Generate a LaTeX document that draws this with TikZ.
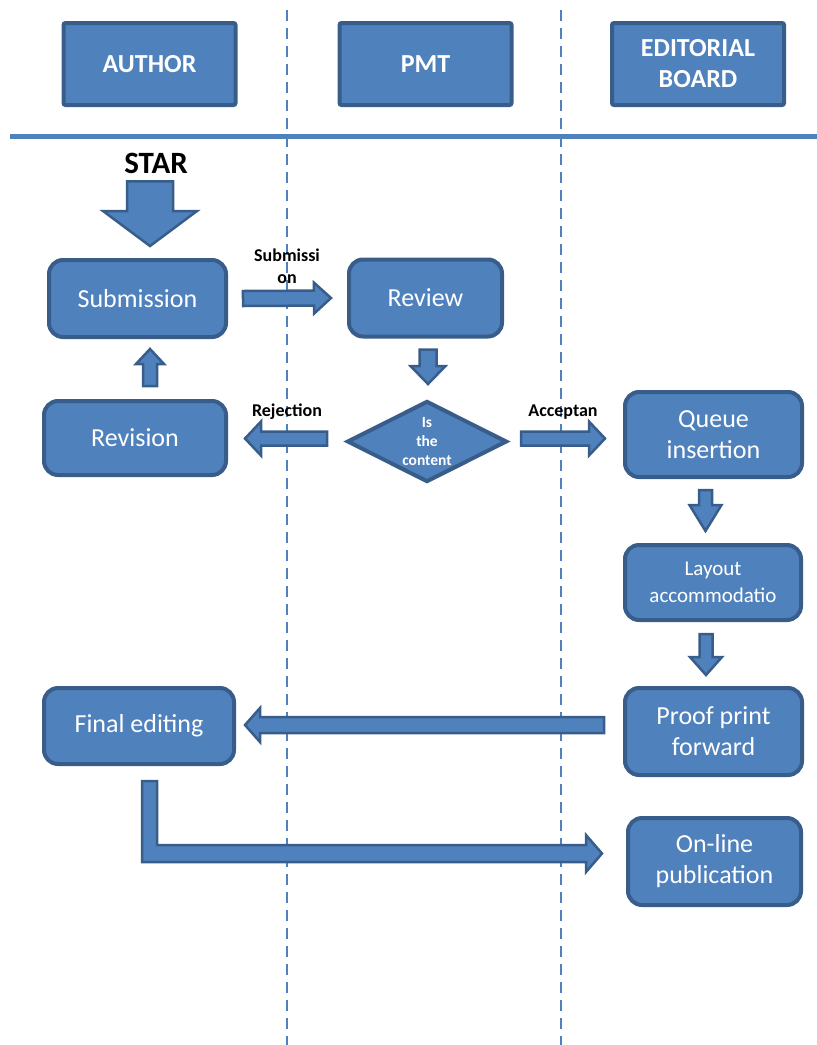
\documentclass[tikz,border=0pt]{standalone}
\usepackage{fontspec}
\setmainfont{Carlito}
\usepackage{tikz}
\usetikzlibrary{calc}
\usetikzlibrary{shapes.geometric}
\definecolor{boxblue}{RGB}{79,129,189}
\definecolor{boxline}{RGB}{56,93,138}
\tikzset{lane/.style={draw=boxline, fill=boxblue, line width=4pt, rounded corners=2pt,
    text=white, align=center, minimum width=172pt, minimum height=82pt,
    font=\bfseries\fontsize{26}{31}\selectfont}}
\tikzset{stepbox/.style={draw=boxline, fill=boxblue, line width=4pt, rounded corners=14pt,
    text=white, align=center, font=\fontsize{26}{31}\selectfont}}
\tikzset{decision/.style={diamond, aspect=2, inner sep=0pt, draw=boxline, fill=boxblue,
    line width=4pt, text=white, align=center, font=\bfseries\fontsize{15.5}{19}\selectfont}}
\tikzset{flowlabel/.style={align=center, font=\bfseries\fontsize{18}{22}\selectfont}}
\tikzset{blockarrow/.style={draw=boxline, fill=boxblue, line width=2.5pt, line join=miter}}
\tikzset{lanesep/.style={draw=boxblue, line width=2.5pt, dash pattern=on 11pt off 7pt}}
% block arrow: start, tip, half shaft, half head, head length
\newcommand{\blockarrow}[5]{
    \draw[blockarrow] let \p1=#1, \p2=#2,
        \n1={atan2(\y2-\y1,\x2-\x1)}, \n2={veclen(\x2-\x1,\y2-\y1)} in
        ([shift={(\p1)},rotate=\n1] 0pt,#3pt)
        -- ([shift={(\p1)},rotate=\n1] \n2-#5pt,#3pt)
        -- ([shift={(\p1)},rotate=\n1] \n2-#5pt,#4pt)
        -- (\p2)
        -- ([shift={(\p1)},rotate=\n1] \n2-#5pt,-#4pt)
        -- ([shift={(\p1)},rotate=\n1] \n2-#5pt,-#3pt)
        -- ([shift={(\p1)},rotate=\n1] 0pt,-#3pt) -- cycle;
}

\begin{document}
\begin{tikzpicture}[x=1pt,y=-1pt]
        \useasboundingbox (0,0) rectangle (817,1045);

        % lanes
        \draw[lanesep] (287,10) -- (287,1045);
        \draw[lanesep] (561,10) -- (561,1045);
        \draw[boxblue, line width=5pt] (10,136) -- (817,136);

        \node[lane] (author) at (149.5,64) {AUTHOR};
        \node[lane] (pmt) at (425.5,64) {PMT};
        \node[lane] (board) at (698,64) {EDITORIAL\\BOARD};

        % steps
        \node[inner sep=0pt, font=\bfseries\fontsize{31}{36}\selectfont] (start) at (156,163) {STAR};
        \node[stepbox, minimum width=177pt, minimum height=77pt] (sub) at (137.5,298.5) {Submission};
        \node[stepbox, minimum width=153pt, minimum height=77pt] (rev) at (425.5,298) {Review};
        \node[decision, minimum width=160pt, minimum height=81pt] (content) at (427,441.5) {Is\\the\\content};
        \node[stepbox, minimum width=182pt, minimum height=74pt] (revis) at (135,438) {Revision};
        \node[stepbox, minimum width=177pt, minimum height=85pt] (queue) at (713.5,434.5) {Queue\\insertion};
        \node[stepbox, minimum width=176pt, minimum height=75pt,
            font=\fontsize{21}{27}\selectfont] (layout) at (713,582.5) {Layout\\accommodatio};
        \node[stepbox, minimum width=177pt, minimum height=87pt] (proof) at (713.5,731.5) {Proof print\\forward};
        \node[stepbox, minimum width=190pt, minimum height=76pt] (final) at (139,726) {Final editing};
        \node[stepbox, minimum width=173pt, minimum height=87pt] (online) at (714.5,861.5) {On-line\\publication};

        % arrows
        \blockarrow{([shift={(-6pt,-8pt)}]start.south)}{($(start.south |- sub.north)+(-6,-12)$)}{23}{47}{35}
        \blockarrow{([xshift=15pt]sub.east)}{([xshift=-16pt]rev.west)}{7.5}{15.5}{17}
        \blockarrow{([shift={(2.5pt,-11pt)}]rev.south)}{($(rev.south |- content.north)+(2.5,-15)$)}{8.5}{17.5}{18}
        \blockarrow{($(content.west)+(-18,-3)$)}{($(revis.east |- content.west)+(17,-3)$)}{7}{17}{16}
        \blockarrow{($(content.east)+(12,-3)$)}{($(queue.west |- content.east)+(-18,-3)$)}{7}{17}{16}
        \blockarrow{($(revis.north)+(15,-13)$)}{($(revis.north |- sub.south)+(15,10)$)}{7}{14}{15}
        \blockarrow{($(queue.south)+(-8,11)$)}{($(queue.south |- layout.north)+(-8,-12)$)}{6.5}{16}{26}
        \blockarrow{($(layout.south)+(-7,12)$)}{($(layout.south |- proof.north)+(-7,-11)$)}{6.5}{16}{18}
        \blockarrow{($(proof.west |- final.east)+(-19,-1)$)}{($(final.east)+(9,-1)$)}{8}{17}{15}
        \draw[blockarrow] let \p1=($(final.south)+(10.5,15)$), \p2=($(online.west)+(-24,-8)$) in
            (\x1-7.5pt,\y1) -- (\x1+7.5pt,\y1) -- (\x1+7.5pt,\y2+8.5pt)
            -- (\x2-16pt,\y2+8.5pt) -- (\x2-16pt,\y2+18.5pt) -- (\x2,\y2)
            -- (\x2-16pt,\y2-18.5pt) -- (\x2-16pt,\y2-8.5pt) -- (\x1-7.5pt,\y2-8.5pt) -- cycle;

        % labels
        \node[flowlabel] (sublbl) at (287,266) {Submissi\\on};
        \node[flowlabel] (rejlbl) at (287,412) {Rejection};
        \node[flowlabel] (acclbl) at (563,412) {Acceptan};
\end{tikzpicture}
\end{document}
